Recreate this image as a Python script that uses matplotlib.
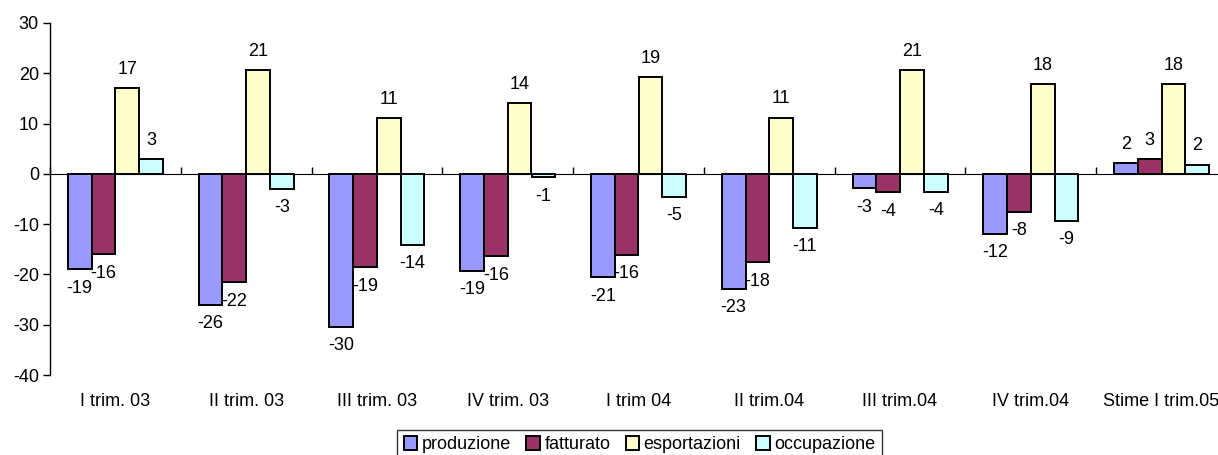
import matplotlib
matplotlib.use("Agg")
import matplotlib.pyplot as plt
from matplotlib.patches import Patch
import numpy as np

categories = ["I trim. 03", "II trim. 03", "III trim. 03", "IV trim. 03",
              "I trim 04", "II trim.04", "III trim.04", "IV trim.04",
              "Stime I trim.05"]
produzione = [-19.0, -26.1, -30.4, -19.3, -20.6, -22.8, -2.9, -11.9, 2.2]
fatturato = [-16.0, -21.6, -18.6, -16.4, -16.1, -17.6, -3.7, -7.6, 3.0]
esportazioni = [17.0, 20.7, 11.1, 14.1, 19.3, 11.2, 20.6, 17.9, 17.9]
occupazione = [2.9, -3.0, -14.1, -0.7, -4.6, -10.7, -3.6, -9.3, 1.85]
series_names = ["produzione", "fatturato", "esportazioni", "occupazione"]
y_ticks = [-40, -30, -20, -10, 0, 10, 20, 30]

colors = ["#9999FF", "#993366", "#FFFFCC", "#CCFFFF"]

plt.rcParams["font.family"] = ["Liberation Sans", "DejaVu Sans"]
plt.rcParams["axes.unicode_minus"] = False
FS = 13

fig = plt.figure(figsize=(12.18, 4.55), dpi=100)
ax = fig.add_axes([50 / 1218, 80 / 455, 1177 / 1218, 352 / 455])

series = [produzione, fatturato, esportazioni, occupazione]
n = len(categories)
x = np.arange(n)
w = 1 / 5.5  # four bars plus a 150% gap per category

for i, (vals, name, col) in enumerate(zip(series, series_names, colors)):
    pos = x - 2 * w + (i + 0.5) * w
    ax.bar(pos, vals, width=w, color=col, edgecolor="black", linewidth=1.4,
           label=name, zorder=3)
    for px, v in zip(pos, vals):
        off = 13.5 if v >= 0 else -13.5
        ax.annotate(f"{v:.0f}", (px, v), xytext=(0, off),
                    textcoords="offset points", ha="center", va="center",
                    fontsize=FS, zorder=4)

ymin, ymax = -40, 30
ax.set_ylim(ymin, ymax)
ax.set_xlim(-0.5, n - 0.5)
ax.set_yticks(y_ticks)
ax.set_yticklabels([str(t) for t in y_ticks])
ax.tick_params(axis="y", length=5, width=1, pad=3, labelsize=FS, direction="out")

# category labels at the bottom of the plot area
ax.set_xticks(x)
ax.set_xticklabels(categories)
ax.tick_params(axis="x", length=0, pad=13, labelsize=FS)

for s in ["top", "right", "bottom"]:
    ax.spines[s].set_visible(False)
ax.spines["left"].set_linewidth(1)

# zero line carrying the category divider ticks
zero_loc = (0 - ymin) / (ymax - ymin)
sec = ax.secondary_xaxis(zero_loc)
sec.set_xticks(np.arange(n + 1) - 0.5)
sec.set_xticklabels([])
sec.tick_params(axis="x", length=5, width=1, direction="out")
sec.spines["bottom"].set_linewidth(1)
sec.spines["bottom"].set_zorder(5)

handles = [Patch(facecolor=c, edgecolor="black", linewidth=1.4) for c in colors]
leg = fig.legend(handles, series_names, loc="upper center",
                 bbox_to_anchor=(639.5 / 1218, 1 - 430 / 455), ncol=4,
                 fontsize=FS, frameon=True, fancybox=False, shadow=False,
                 handlelength=0.75, handleheight=0.75, handletextpad=0.25,
                 columnspacing=0.85, borderpad=0.35, borderaxespad=0)
leg.get_frame().set_edgecolor("black")
leg.get_frame().set_linewidth(1)

fig.savefig("out.png", dpi=100)
